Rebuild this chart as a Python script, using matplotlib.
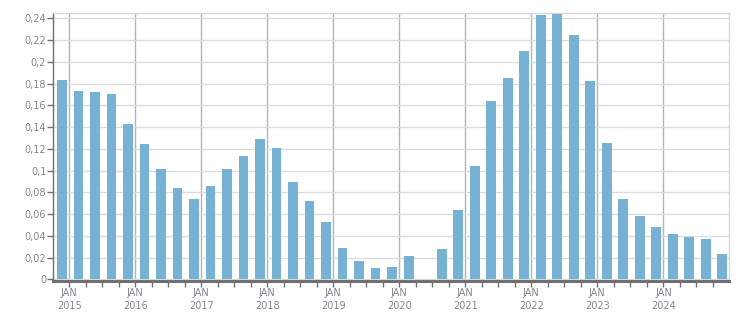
import matplotlib
matplotlib.use("Agg")
import matplotlib.pyplot as plt
import numpy as np
from matplotlib.ticker import FixedLocator, FuncFormatter

# Quarterly values, 2015 Q1 .. 2025 Q1
values = [0.1833, 0.1732, 0.1722, 0.1704,
          0.1428, 0.1244, 0.1014, 0.0840,
          0.0738, 0.0858, 0.1014, 0.1134,
          0.1290, 0.1207, 0.0895, 0.0720,
          0.0527, 0.0288, 0.0168, 0.0104,
          0.0113, 0.0214, 0.0005, 0.0279,
          0.0637, 0.1042, 0.1639, 0.1851,
          0.2099, 0.2430, 0.2439, 0.2246,
          0.1824, 0.1253, 0.0738, 0.0582,
          0.0481, 0.0417, 0.0389, 0.0370,
          0.0233]
years = ["2015", "2016", "2017", "2018", "2019", "2020", "2021", "2022", "2023", "2024"]
yticks = [0, 0.02, 0.04, 0.06, 0.08, 0.1, 0.12, 0.14, 0.16, 0.18, 0.2, 0.22, 0.24]

bar_color = "#77b1d4"
label_color = "#858590"
spine_color = "#707070"

fig = plt.figure(figsize=(7.51, 3.13), dpi=100)
ax = fig.add_axes([53.3 / 751, 1 - 280.8 / 313, (728.7 - 53.3) / 751, (280.8 - 13.3) / 313])

x = np.arange(len(values))
ax.bar(x, values, width=0.6, color=bar_color, zorder=3)

ax.set_xlim(-0.527, 40.4)
ax.set_ylim(-0.0014, 0.2446)

# y axis
ax.yaxis.set_major_locator(FixedLocator(yticks))
ax.yaxis.set_major_formatter(FuncFormatter(lambda v, p: ("%g" % round(v, 2)).replace(".", ",")))
ax.grid(axis="y", color="#dcdcdc", linewidth=1.0, zorder=0)

# x axis
offset = 0.44
major = [offset + 4 * i for i in range(len(years))]
minor = [offset + k for k in range(-0, 40) if k % 4 != 0]
ax.xaxis.set_major_locator(FixedLocator(major))
ax.xaxis.set_minor_locator(FixedLocator(minor))
ax.set_xticklabels(["JAN\n" + y for y in years], linespacing=1.3)
for lx in major:
    ax.axvline(lx, color="#b4b4b4", linewidth=1.0, zorder=1)

ax.tick_params(axis="both", colors=spine_color, labelcolor=label_color, labelsize=7)
ax.tick_params(axis="y", length=4, width=1, pad=1)
ax.tick_params(axis="x", which="major", length=4, width=1, pad=1.5)
ax.tick_params(axis="x", which="minor", length=4, width=1, color=spine_color)

for s in ["top", "right"]:
    ax.spines[s].set_color("#d8d8d8")
    ax.spines[s].set_linewidth(1.0)
ax.spines["left"].set_color(spine_color)
ax.spines["left"].set_linewidth(1.0)
ax.spines["bottom"].set_color(spine_color)
ax.spines["bottom"].set_linewidth(2.2)

fig.savefig("out.png", dpi=100, facecolor="white")
